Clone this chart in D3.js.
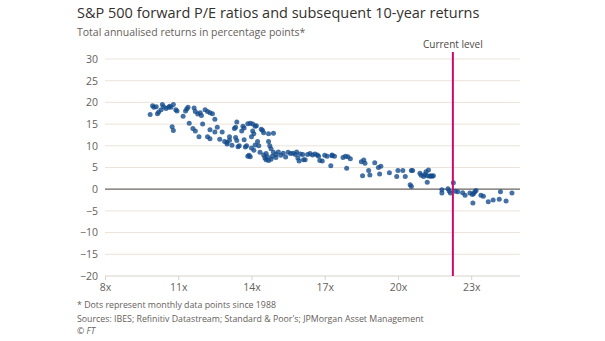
<!DOCTYPE html>
<html>
<head>
<meta charset="utf-8">
<script src="https://cdn.jsdelivr.net/npm/d3@7"></script>
<style>
  body { margin: 0; background: #fff; }
  svg { font-family: "Open Sans", "Noto Sans", sans-serif; }
</style>
</head>
<body>
<svg id="drawing_region"></svg>
<script>
// forward P/E ratio (x) and subsequent 10-year annualised return (y)
const peRatios = [
  9.85, 9.95, 10.0, 10.1, 10.15, 10.2, 10.3, 10.35, 10.4, 10.5, 10.6, 10.65, 10.7, 10.8, 10.75, 10.8, 10.9, 10.95,
  11.2, 11.3, 11.35, 11.4, 11.45, 11.6, 11.7, 11.85, 11.65, 11.7, 11.8, 11.9, 11.95, 12.0, 12.1, 12.2, 12.3, 12.4, 12.2, 12.3, 12.3, 12.5, 12.5, 12.6, 12.7,
  12.8, 12.9, 13.0, 13.0, 13.1, 13.1, 13.2, 13.3, 13.35, 13.4, 13.35, 13.4, 13.45, 13.5, 13.6, 13.65, 13.7, 13.7, 13.75, 13.8, 13.85, 13.95, 14.05, 13.85, 13.9, 13.95,
  14.0, 14.05, 14.1, 14.0, 14.1, 14.15, 14.15, 14.2, 14.25, 14.3, 14.35, 14.4, 14.45, 14.5, 14.5, 14.55, 14.6, 14.65, 14.7, 14.7, 14.75, 14.8, 14.6, 14.7, 14.8, 14.85, 14.9, 14.9, 15.0, 15.0,
  15.1, 15.2, 15.3, 15.4, 15.5, 15.6, 15.7, 15.8, 15.85, 15.9, 15.95, 16.0, 16.1, 16.13, 16.2, 16.3, 16.4, 16.5, 16.6, 16.7, 16.75, 16.8, 16.9, 17.0, 17.1, 17.25, 17.3, 17.4,
  17.3, 17.75, 17.85, 17.95, 18.05, 17.9, 18.5, 18.6, 18.65, 18.55, 18.8, 18.85,
  19.05, 19.2, 19.3, 19.25, 19.65, 19.95, 20.0, 20.2, 20.3, 20.55, 20.6, 20.5, 20.55,
  20.9, 20.95, 21.05, 21.1, 21.15, 21.2, 21.25, 21.3, 21.35, 21.4, 21.45, 21.2,
  21.8, 21.8, 22.05, 22.1, 22.15, 22.27, 22.35, 22.45, 22.65, 22.75, 22.95, 23.05, 23.1, 23.15, 23.2, 23.07, 23.4, 23.5, 23.7, 23.9, 24.15, 24.2, 24.43, 24.67
];
const returns10y = [
  17.2, 19.2, 18.9, 19.0, 17.4, 17.8, 18.3, 19.5, 19.0, 18.6, 18.9, 19.1, 18.9, 19.5, 14.4, 13.5, 18.3, 18.0,
  16.8, 18.0, 18.5, 18.9, 15.2, 14.0, 13.4, 12.1, 18.7, 17.9, 17.3, 17.6, 17.0, 15.0, 18.3, 17.9, 17.6, 17.4, 12.1, 11.6, 13.7, 16.1, 13.2, 14.3, 11.5,
  13.2, 11.0, 10.4, 10.8, 11.3, 12.1, 10.1, 14.0, 14.3, 15.5, 11.9, 11.2, 9.8, 10.0, 13.4, 14.5, 14.1, 11.4, 9.7, 10.0, 15.1, 15.2, 15.0, 7.6, 7.8, 7.5,
  12.1, 13.4, 12.8, 9.5, 9.0, 10.2, 14.5, 14.6, 11.0, 10.0, 8.5, 13.8, 13.6, 13.0, 7.9, 7.2, 6.8, 7.5, 12.8, 11.0, 10.0, 9.3, 8.2, 6.6, 6.9, 7.6, 8.5, 12.9, 8.0, 7.3,
  8.6, 7.8, 8.3, 7.4, 8.5, 8.2, 8.3, 8.0, 8.6, 7.2, 6.5, 8.1, 8.0, 6.8, 6.8, 8.0, 8.2, 7.9, 8.1, 7.9, 7.6, 6.6, 6.5, 7.8, 7.6, 5.4, 7.9, 7.6,
  7.7, 7.3, 7.6, 7.5, 7.0, 4.8, 6.3, 6.7, 6.0, 3.1, 4.3, 3.3,
  6.1, 5.0, 5.3, 3.5, 3.8, 2.9, 4.3, 4.3, 2.9, 4.3, 4.3, 1.0, 0.6,
  3.7, 3.2, 2.9, 3.4, 4.0, 3.1, 4.4, 3.0, 3.1, 3.0, 3.1, 1.6,
  -0.1, -0.9, 0.1, -0.4, -0.9, 1.5, -0.5, -0.6, -0.8, -1.4, -0.9, -1.2, -1.0, -0.6, -0.3, -3.2, -1.4, -1.6, -2.9, -2.5, -2.3, -0.6, -2.7, -0.9
];
const xTicks = [8, 11, 14, 17, 20, 23];
const yTicks = [30, 25, 20, 15, 10, 5, 0, -5, -10, -15, -20];
const currentLevel = 22.25;

const titleText = "S&P 500 forward P/E ratios and subsequent 10-year returns";
const subtitleText = "Total annualised returns in percentage points*";
const footnotes = [
  "* Dots represent monthly data points since 1988",
  "Sources: IBES; Refinitiv Datastream; Standard & Poor's; JPMorgan Asset Management",
  "© FT"
];

const data = peRatios.map((d, i) => ({ pe: d, ret: returns10y[i] }));

const width = 605, height = 341;
const margin = { top: 59, right: 85, bottom: 65, left: 105 };
const innerW = width - margin.left - margin.right;
const innerH = height - margin.top - margin.bottom;

const svg = d3.select('#drawing_region')
  .attr('width', width)
  .attr('height', height);

svg.append('text')
  .attr('x', 77).attr('y', 18)
  .attr('font-size', 14.5)
  .attr('fill', '#33302e')
  .text(titleText);

svg.append('text')
  .attr('x', 77).attr('y', 36)
  .attr('font-size', 10.5)
  .attr('fill', '#66605c')
  .text(subtitleText);

const chart = svg.append('g')
  .attr('transform', `translate(${margin.left}, ${margin.top})`);

const xscale = d3.scaleLinear().domain([8, 25]).range([0, innerW]);
const yscale = d3.scaleLinear().domain([-20, 30]).range([innerH, 0]);

// gridlines
chart.selectAll('.grid')
  .data(yTicks.filter(d => d !== 0 && d !== -20))
  .join('line')
  .attr('x1', 0).attr('x2', innerW)
  .attr('y1', d => yscale(d)).attr('y2', d => yscale(d))
  .attr('stroke', '#ece3da')
  .attr('stroke-width', 1);

// y axis labels
const yaxis = d3.axisLeft(yscale).tickValues(yTicks).tickSize(0).tickPadding(7);
chart.append('g').call(yaxis)
  .call(g => g.select('.domain').remove())
  .call(g => g.selectAll('text')
    .attr('font-size', 10.5)
    .attr('fill', '#66605c')
    .attr('font-family', '"Open Sans", sans-serif'));

// x axis
const xaxis = d3.axisBottom(xscale).tickValues(xTicks).tickSize(4).tickPadding(4)
  .tickFormat(d => d + 'x');
chart.append('g')
  .attr('transform', `translate(0, ${innerH})`)
  .call(xaxis)
  .call(g => g.select('.domain').attr('stroke', '#d9d2cb').attr('d', `M0,0H${innerW}`))
  .call(g => g.selectAll('.tick line').attr('stroke', '#d9d2cb'))
  .call(g => g.selectAll('text')
    .attr('font-size', 10.5)
    .attr('fill', '#66605c')
    .attr('font-family', '"Open Sans", sans-serif'));

// zero line
chart.append('line')
  .attr('x1', 0).attr('x2', innerW)
  .attr('y1', yscale(0)).attr('y2', yscale(0))
  .attr('stroke', '#6b6561')
  .attr('stroke-width', 1.3);

// dots
chart.selectAll('circle')
  .data(data)
  .join('circle')
  .attr('cx', d => xscale(d.pe))
  .attr('cy', d => yscale(d.ret))
  .attr('r', 2.5)
  .attr('fill', '#11498a')
  .attr('fill-opacity', 0.78);

// current level marker
chart.append('line')
  .attr('x1', xscale(currentLevel)).attr('x2', xscale(currentLevel))
  .attr('y1', -7).attr('y2', innerH)
  .attr('stroke', '#cc0a6e')
  .attr('stroke-width', 2);

chart.append('text')
  .attr('x', xscale(currentLevel)).attr('y', -11)
  .attr('text-anchor', 'middle')
  .attr('font-size', 10)
  .attr('fill', '#4d4845')
  .text('Current level');

// footnotes
svg.selectAll('.foot')
  .data(footnotes)
  .join('text')
  .attr('x', 77)
  .attr('y', (d, i) => [308, 322, 334][i])
  .attr('font-size', 8.8)
  .attr('fill', '#66605c')
  .attr('font-style', (d, i) => i === 2 ? 'italic' : 'normal')
  .text(d => d);
</script>
</body>
</html>
